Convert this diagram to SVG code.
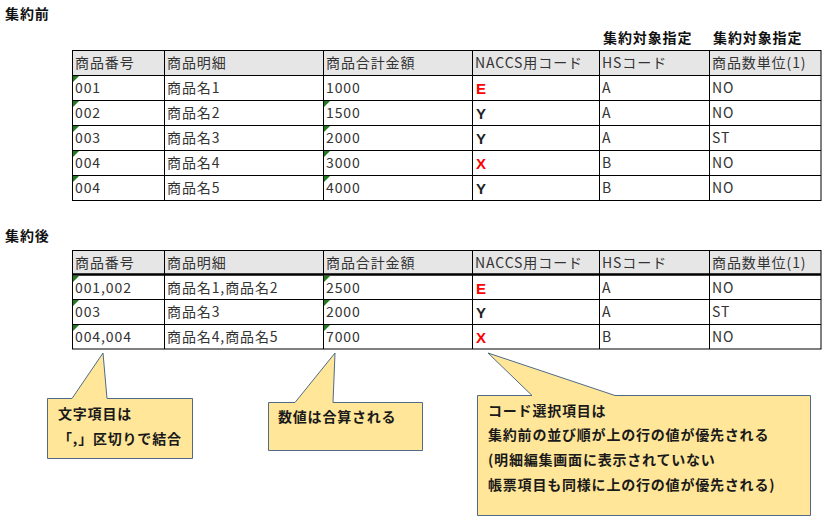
<svg xmlns="http://www.w3.org/2000/svg" width="823" height="526" viewBox="0 0 823 526">
<style>
.title{font-family:"Noto Sans CJK JP","Liberation Sans",sans-serif;font-size:14px;font-weight:bold;fill:#111;letter-spacing:0.9px}
.cell{font-family:"Noto Sans CJK JP","Liberation Sans",sans-serif;font-size:14px;fill:#333;letter-spacing:0.9px}
.code{font-family:"Liberation Sans",Arial,sans-serif;font-size:15px;font-weight:bold;fill:#222}
.red{fill:#ff0000}
.hdr{fill:#e7e6e6}
.grid{stroke:#000;stroke-width:1;fill:none}
.tri{fill:#1e7b1e}
.callout{fill:#ffe699;stroke:#4f6b86;stroke-width:1}
.ctext{font-family:"Noto Sans CJK JP","Liberation Sans",sans-serif;font-size:14px;font-weight:bold;fill:#1a1a1a;letter-spacing:0.8px}
</style>
<defs>
<path id="g" class="tri" d="M0,0 L6,0 L0,6 Z"/>
</defs>
<rect width="823" height="526" fill="#fff"/>

<text class="title" x="5" y="19">集約前</text>
<text class="title" x="603" y="43">集約対象指定</text>
<text class="title" x="713" y="43">集約対象指定</text>

<g id="table-before">
<rect class="hdr" x="72" y="50" width="749" height="25"/>
<g class="grid">
<rect x="72.5" y="50.5" width="748.5" height="150"/>
<path d="M72,75.5H821M72,100.5H821M72,125.5H821M72,150.5H821M72,175.5H821"/>
<path d="M164.5,50V200M323.5,50V200M472.5,50V200M599.5,50V200M709.5,50V200"/>
</g>
<use href="#g" x="73" y="76"/><use href="#g" x="73" y="101"/><use href="#g" x="73" y="126"/><use href="#g" x="73" y="151"/><use href="#g" x="73" y="176"/>
<use href="#g" x="324" y="101"/><use href="#g" x="324" y="126"/><use href="#g" x="324" y="151"/><use href="#g" x="324" y="176"/>
<g class="cell">
<text x="75" y="68">商品番号</text><text x="167" y="68">商品明細</text><text x="326" y="68">商品合計金額</text><text x="475" y="68">NACCS用コード</text><text x="602" y="68">HSコード</text><text x="712" y="68">商品数単位(1)</text>
<text x="75" y="93">001</text><text x="167" y="93">商品名1</text><text x="326" y="93">1000</text><text x="602" y="93">A</text><text x="712" y="93">NO</text>
<text x="75" y="118">002</text><text x="167" y="118">商品名2</text><text x="326" y="118">1500</text><text x="602" y="118">A</text><text x="712" y="118">NO</text>
<text x="75" y="143">003</text><text x="167" y="143">商品名3</text><text x="326" y="143">2000</text><text x="602" y="143">A</text><text x="712" y="143">ST</text>
<text x="75" y="168">004</text><text x="167" y="168">商品名4</text><text x="326" y="168">3000</text><text x="602" y="168">B</text><text x="712" y="168">NO</text>
<text x="75" y="193">004</text><text x="167" y="193">商品名5</text><text x="326" y="193">4000</text><text x="602" y="193">B</text><text x="712" y="193">NO</text>
</g>
<text class="code red" x="476" y="94">E</text>
<text class="code" x="476" y="119">Y</text>
<text class="code" x="476" y="144">Y</text>
<text class="code red" x="476" y="169">X</text>
<text class="code" x="476" y="194">Y</text>
</g>

<text class="title" x="5" y="241">集約後</text>

<g id="table-after">
<rect class="hdr" x="72" y="250" width="749" height="25"/>
<g class="grid">
<rect x="72.5" y="250.5" width="748.5" height="98.5"/>
<path d="M72,274.5H821" stroke-width="2.5"/>
<path d="M72,299.5H821M72,324.5H821"/>
<path d="M164.5,250V349M323.5,250V349M472.5,250V349M599.5,250V349M709.5,250V349"/>
</g>
<use href="#g" x="73" y="276"/><use href="#g" x="73" y="300"/><use href="#g" x="73" y="325"/>
<use href="#g" x="324" y="276"/><use href="#g" x="324" y="300"/><use href="#g" x="324" y="325"/>
<g class="cell">
<text x="75" y="268">商品番号</text><text x="167" y="268">商品明細</text><text x="326" y="268">商品合計金額</text><text x="475" y="268">NACCS用コード</text><text x="602" y="268">HSコード</text><text x="712" y="268">商品数単位(1)</text>
<text x="75" y="293">001,002</text><text x="167" y="293">商品名1,商品名2</text><text x="326" y="293">2500</text><text x="602" y="293">A</text><text x="712" y="293">NO</text>
<text x="75" y="317">003</text><text x="167" y="317">商品名3</text><text x="326" y="317">2000</text><text x="602" y="317">A</text><text x="712" y="317">ST</text>
<text x="75" y="342">004,004</text><text x="167" y="342">商品名4,商品名5</text><text x="326" y="342">7000</text><text x="602" y="342">B</text><text x="712" y="342">NO</text>
</g>
<text class="code red" x="476" y="294">E</text>
<text class="code" x="476" y="318">Y</text>
<text class="code red" x="476" y="343">X</text>
</g>

<g id="callout-text">
<path class="callout" d="M47.5,398.5 L72,398.5 L103,353 L107,398.5 L192.5,398.5 L192.5,458.5 L47.5,458.5 Z"/>
<text class="ctext" x="58" y="419">文字項目は</text>
<text class="ctext" x="58" y="444">「,」区切りで結合</text>
</g>

<g id="callout-number">
<path class="callout" d="M268.5,402.5 L295,402.5 L335,353 L333,402.5 L422.5,402.5 L422.5,450.5 L268.5,450.5 Z"/>
<text class="ctext" x="278" y="422">数値は合算される</text>
</g>

<g id="callout-code">
<path class="callout" d="M477.5,395.5 L532,395.5 L488,353 L615,395.5 L810.5,395.5 L810.5,515.5 L477.5,515.5 Z"/>
<text class="ctext" x="488" y="416">コード選択項目は</text>
<text class="ctext" x="488" y="440">集約前の並び順が上の行の値が優先される</text>
<text class="ctext" x="488" y="465">(明細編集画面に表示されていない</text>
<text class="ctext" x="488" y="490">帳票項目も同様に上の行の値が優先される)</text>
</g>
</svg>
